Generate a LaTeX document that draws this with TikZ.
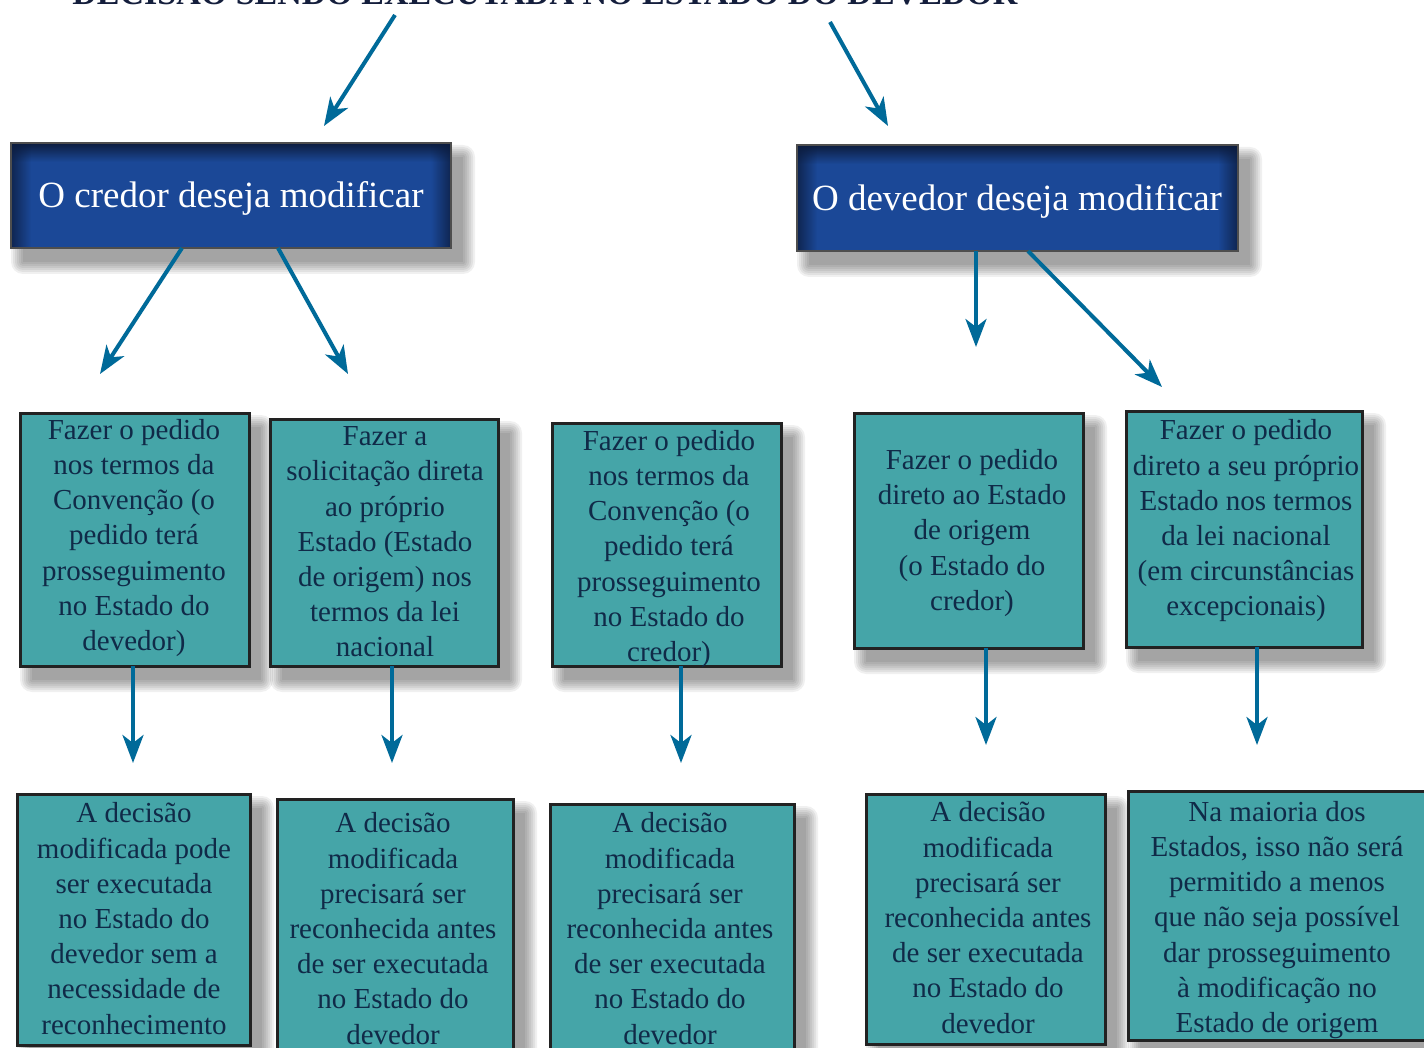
\documentclass[tikz,border=0pt]{standalone}
\usepackage{fontspec}
\setmainfont{Liberation Serif}
\usetikzlibrary{arrows.meta,calc,fadings}
\definecolor{teal1}{RGB}{69,165,168}
\definecolor{hblue}{RGB}{27,72,151}
\definecolor{hdark}{RGB}{12,28,62}
\definecolor{arrowc}{RGB}{0,106,153}
\definecolor{txt}{RGB}{16,42,72}
\definecolor{bord}{RGB}{34,34,34}
\definecolor{titlec}{RGB}{20,30,60}
\pgfdeclareverticalshading{hdrshade}{100bp}{color(0bp)=(hblue); color(66bp)=(hblue); color(75bp)=(hdark); color(100bp)=(hdark)}
\tikzfading[name=fadeR, left color=transparent!0, right color=transparent!100]
\tikzfading[name=fadeL, left color=transparent!100, right color=transparent!0]
\pgfdeclarelayer{bg}
\pgfsetlayers{bg,main}
\newcommand{\mkshadow}[1]{%
  \begin{pgfonlayer}{bg}
  \foreach \r in {12,10,8,6,4,2,0}{
    \fill[black, fill opacity=0.06, rounded corners=\r pt]
      ($(#1.north west)+(12-\r,14-\r)$) rectangle ($(#1.south east)+(12+\r,14+\r)$);
  }
  \end{pgfonlayer}}
\begin{document}
\begin{tikzpicture}[x=1pt,y=-1pt,
  tbox/.style={draw=bord, line width=3pt, fill=teal1, inner sep=0pt, outer sep=0pt, anchor=north west},
  hbox/.style={draw=bord!80, line width=2pt, shade, shading=hdrshade, inner sep=0pt, outer sep=0pt, anchor=north west},
  ttext/.style={text=txt, align=center, inner sep=0pt, font=\fontsize{29}{35.2}\selectfont},
  htext/.style={text=white, inner sep=0pt, font=\fontsize{37}{44}\selectfont},
  arr/.style={draw=arrowc, line width=4pt, -{Stealth[length=28pt,width=21pt,inset=8pt]}},
]
\useasboundingbox (0,0) rectangle (1424,1048);
\begin{pgfonlayer}{bg}
\fill[white] (0,0) rectangle (1424,1048);
\end{pgfonlayer}
\clip (0,0) rectangle (1424,1048);

% title (cut off at the top edge, as in the reference)
\node[text=titlec, font=\bfseries\fontsize{34}{40}\selectfont, anchor=base, inner sep=0pt] (title) at (545,5) {DECISÃO SENDO EXECUTADA NO ESTADO DO DEVEDOR};

% header boxes
\node[hbox, minimum width=440pt, minimum height=105pt] (hl) at (11,143) {};
\node[hbox, minimum width=441pt, minimum height=106pt] (hr) at (797,145) {};
\foreach \n in {hl,hr}{
  \mkshadow{\n}
  \fill[hdark, path fading=fadeR, fill opacity=0.75] ($(\n.north west)+(1,1)$) rectangle ($(\n.south west)+(20,-1)$);
  \fill[hdark, path fading=fadeL, fill opacity=0.75] ($(\n.north east)+(-20,1)$) rectangle ($(\n.south east)+(-1,-1)$);
  \draw[bord!80, line width=2pt] (\n.north west) rectangle (\n.south east);
}
\node[htext] (hlt) at (231,198) {O credor deseja modificar};
\node[htext] (hrt) at (1017,201) {O devedor deseja modificar};

% middle boxes
\node[tbox, minimum width=229pt, minimum height=253pt] (m1) at (20,413) {};
\node[tbox, minimum width=228pt, minimum height=247pt] (m2) at (270,419) {};
\node[tbox, minimum width=229pt, minimum height=243pt] (m3) at (552,423) {};
\node[tbox, minimum width=229pt, minimum height=235pt] (m4) at (854,413) {};
\node[tbox, minimum width=236pt, minimum height=236pt] (m5) at (1126,411) {};

\node[ttext] (m1t) at (134,538) {Fazer o pedido\\nos termos da\\Convenção (o\\pedido terá\\prosseguimento\\no Estado do\\devedor)};
\node[ttext] (m2t) at (385,542) {Fazer a\\solicitação direta\\ao próprio\\Estado (Estado\\de origem) nos\\termos da lei\\nacional};
\node[ttext] (m3t) at (669,549) {Fazer o pedido\\nos termos da\\Convenção (o\\pedido terá\\prosseguimento\\no Estado do\\credor)};
\node[ttext] (m4t) at (972,533) {Fazer o pedido\\direto ao Estado\\de origem\\(o Estado do\\credor)};
\node[ttext] (m5t) at (1246,521) {Fazer o pedido\\direto a seu próprio\\Estado nos termos\\da lei nacional\\(em circunstâncias\\excepcionais)};

% bottom boxes
\node[tbox, minimum width=233pt, minimum height=251pt] (b1) at (17,794) {};
\node[tbox, minimum width=236pt, minimum height=262pt] (b2) at (277,799) {};
\node[tbox, minimum width=244pt, minimum height=262pt] (b3) at (550,804) {};
\node[tbox, minimum width=239pt, minimum height=250pt] (b4) at (866,794) {};
\node[tbox, minimum width=298pt, minimum height=249pt] (b5) at (1128,791) {};

\foreach \n in {m1,m2,m3,m4,m5,b1,b2,b3,b4,b5}{\mkshadow{\n}}

\node[ttext] (b1t) at (134,918.5) {A decisão\\modificada pode\\ser executada\\no Estado do\\devedor sem a\\necessidade de\\reconhecimento};
\node[ttext] (b2t) at (393,928.5) {A decisão\\modificada\\precisará ser\\reconhecida antes\\de ser executada\\no Estado do\\devedor};
\node[ttext] (b3t) at (670,928.5) {A decisão\\modificada\\precisará ser\\reconhecida antes\\de ser executada\\no Estado do\\devedor};
\node[ttext] (b4t) at (988,917.5) {A decisão\\modificada\\precisará ser\\reconhecida antes\\de ser executada\\no Estado do\\devedor};
\node[ttext] (b5t) at (1277,920) {Na maioria dos\\Estados, isso não será\\permitido a menos\\que não seja possível\\dar prosseguimento\\à modificação no\\Estado de origem};

% free ends of the connectors
\coordinate (s1) at (395,15);
\coordinate (s2) at (830,22);
\coordinate (e1) at (324,126);
\coordinate (e2) at (888,126);
\coordinate (e3) at (100,374);
\coordinate (e4) at (348,374);
\coordinate (e5) at (976,347);
\coordinate (e6) at (1162,387);
\coordinate (e7) at (133,763);
\coordinate (e8) at (392,763);
\coordinate (e9) at (681,763);
\coordinate (e10) at (986,745);
\coordinate (e11) at (1257,745);

% connectors
\draw[arr] (s1) -- (e1);
\draw[arr] (s2) -- (e2);
\draw[arr] ($(hl.south west)+(171,0)$) -- (e3);
\draw[arr] ($(hl.south west)+(267,0)$) -- (e4);
\draw[arr] (hr.south -| e5) -- (e5);
\draw[arr] ($(hr.south west)+(231,0)$) -- (e6);
\draw[arr] (m1.south -| e7) -- (e7);
\draw[arr] (m2.south -| e8) -- (e8);
\draw[arr] (m3.south -| e9) -- (e9);
\draw[arr] (m4.south -| e10) -- (e10);
\draw[arr] (m5.south -| e11) -- (e11);
\end{tikzpicture}
\end{document}
